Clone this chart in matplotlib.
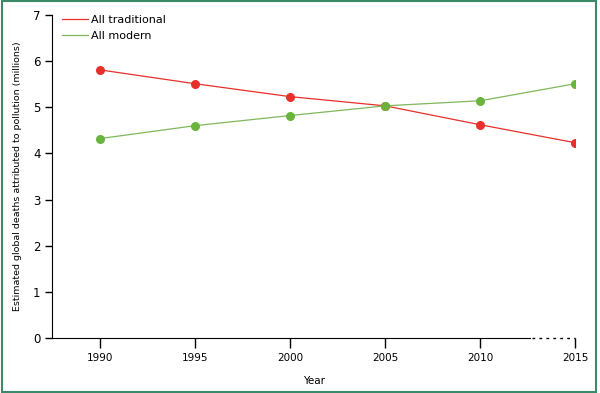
import matplotlib
matplotlib.use("Agg")
import matplotlib.pyplot as plt
from matplotlib.patches import Rectangle

years = [1990, 1995, 2000, 2005, 2010, 2015]
traditional = [5.81, 5.51, 5.23, 5.03, 4.62, 4.23]
modern = [4.32, 4.60, 4.82, 5.03, 5.14, 5.51]

plt.rcParams['font.family'] = ['Liberation Sans Narrow', 'DejaVu Sans']

fig = plt.figure(figsize=(6, 3.93), dpi=100)
ax = fig.add_axes([0.087, 0.140, 0.872, 0.822])

red = '#e8302a'
green = '#6ab43e'
ax.plot(years, traditional, color=red, lw=0.9, label='All traditional')
ax.plot(years, modern, color='#7fb85a', lw=0.9, label='All modern')
ax.scatter(years, traditional, color=red, s=30, zorder=3)
ax.scatter(years, modern, color=green, s=30, zorder=3)

ax.set_xlim(1987.5, 2015)
ax.set_ylim(0, 7)
ax.set_xticks(years)
ax.set_yticks(range(0, 8))
ax.spines['top'].set_visible(False)
ax.spines['right'].set_visible(False)
ax.spines['bottom'].set_bounds(1987.5, 2012.6)
ax.plot([2012.7, 2015], [0, 0], color='black', lw=1, ls=(0, (2, 3)), clip_on=False)
ax.tick_params(axis='y', labelsize=8.5, length=5, width=1, direction='out')
ax.tick_params(axis='x', labelsize=7.5, length=7, width=1, direction='out')
ax.set_xlabel('Year', fontsize=7.5, labelpad=10)
ax.set_ylabel('Estimated global deaths attributed to pollution (millions)', fontsize=6.8, labelpad=8)

ax.legend(loc='upper left', bbox_to_anchor=(0.0, 1.03), frameon=False, fontsize=8,
          handlelength=2.3, handletextpad=0.3, labelspacing=0.55)

fig.patches.append(Rectangle((0.003, 0.003), 0.991, 0.994, transform=fig.transFigure,
                             fill=False, edgecolor='#3a8a6a', lw=1.5))

fig.savefig('out.png', dpi=100)
